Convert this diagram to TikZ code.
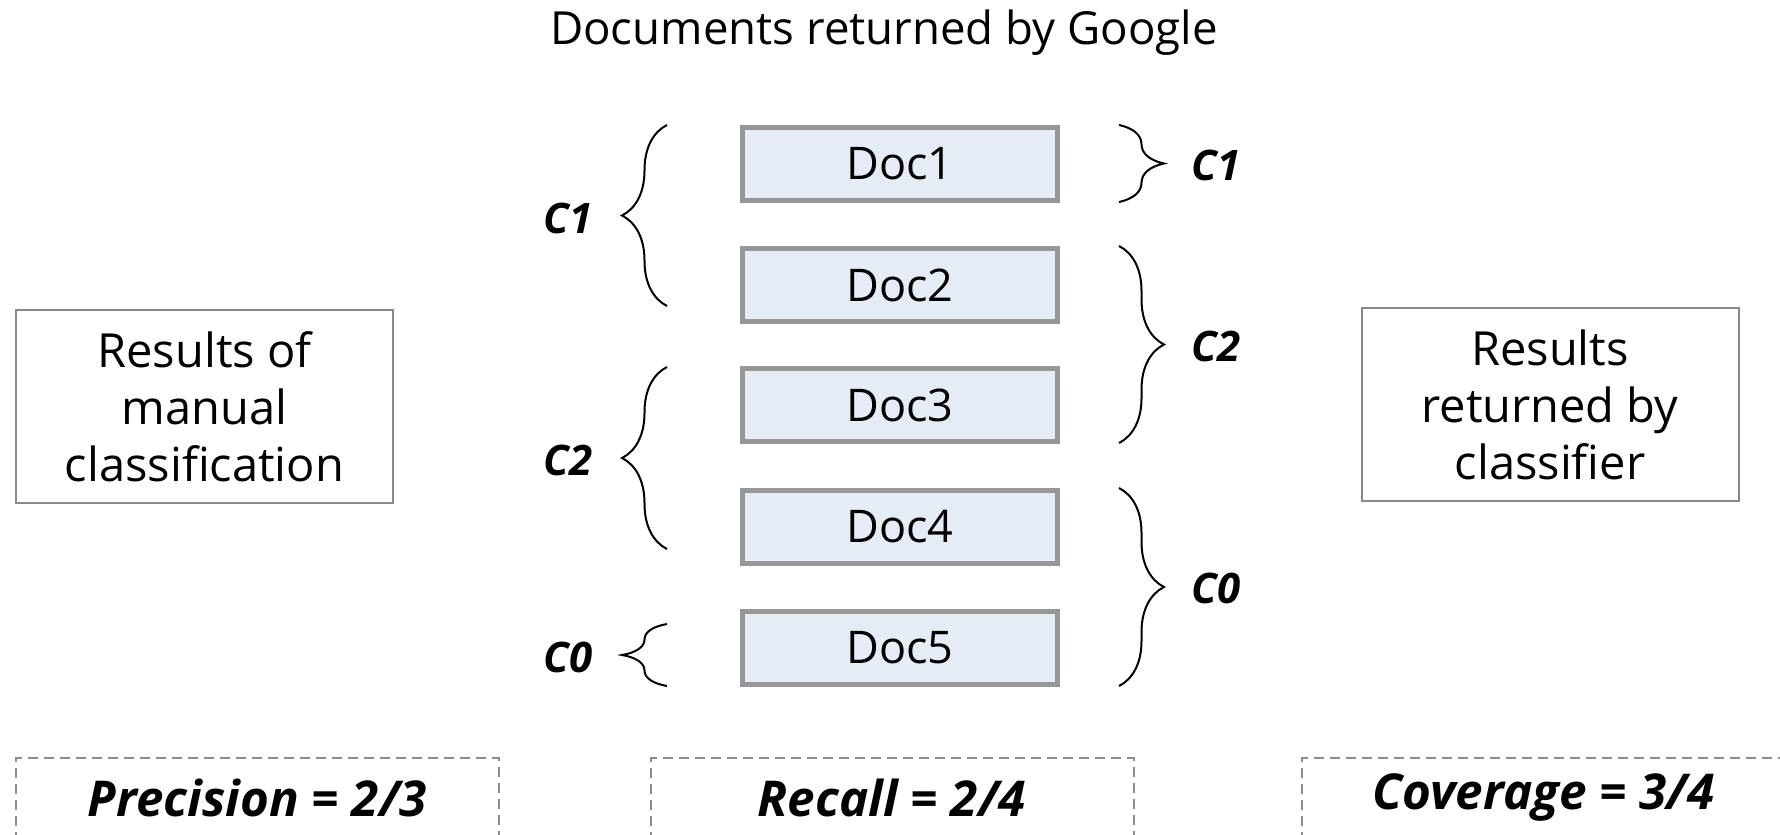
\documentclass[tikz,border=0pt]{standalone}
\usepackage{fontspec}
\setmainfont{Open Sans}
\usetikzlibrary{decorations.pathreplacing}
\definecolor{docfill}{HTML}{E6ECF6}
\definecolor{docline}{HTML}{979797}
\definecolor{boxline}{HTML}{8A8A8A}
\definecolor{dashline}{HTML}{8C8C8C}
\begin{document}
\begin{tikzpicture}[x=0.5pt,y=-0.5pt,
  docbox/.style={draw=docline, line width=2.3pt, fill=docfill, minimum width=157.7pt, minimum height=36.7pt, inner sep=0pt, font=\fontsize{22.5}{28}\selectfont},
  sidebox/.style={draw=boxline, line width=1pt, minimum width=188.5pt, minimum height=96.5pt, inner sep=0pt, align=center, font=\fontsize{23.5}{28.5}\selectfont},
  metricbox/.style={draw=dashline, line width=1pt, dash pattern=on 5pt off 3pt, minimum width=241.5pt, minimum height=40pt, inner sep=0pt, font=\fontsize{24.7}{28}\selectfont\bfseries\itshape},
  clabel/.style={font=\fontsize{21}{28}\selectfont\bfseries\itshape},
  titletext/.style={font=\fontsize{22.8}{28}\selectfont},
  bracepath/.style={decorate, decoration={brace, amplitude=22.5pt}, line width=1pt}
]
\useasboundingbox (0,0) rectangle (1780,834);
\clip (0,0) rectangle (1780,834);

\node[titletext] (title) at (884,33) {Documents returned by Google};

\node[docbox] (d1) at (900,164) {Doc1};
\node[docbox] (d2) at (900,285) {Doc2};
\node[docbox] (d3) at (900,405) {Doc3};
\node[docbox] (d4) at (900,527) {Doc4};
\node[docbox] (d5) at (900,648) {Doc5};

\node[sidebox] (manual) at (204.5,406.5) {Results of\\manual\\classification};
\node[sidebox] (classifier) at (1550,404.5) {Results\\returned by\\classifier};

% left braces (manual classification)
\coordinate (lb1a) at (667,306); \coordinate (lb1b) at (667,125);
\coordinate (lb2a) at (667,549); \coordinate (lb2b) at (667,367);
\coordinate (lb3a) at (667,686); \coordinate (lb3b) at (667,624);
\draw[bracepath] (lb1a) -- (lb1b);
\draw[bracepath] (lb2a) -- (lb2b);
\draw[bracepath] (lb3a) -- (lb3b);
\node[clabel] (lc1) at (568,218) {C1};
\node[clabel] (lc2) at (568,460) {C2};
\node[clabel] (lc0) at (568,657) {C0};

% right braces (classifier)
\coordinate (rb1a) at (1119,125); \coordinate (rb1b) at (1119,202);
\coordinate (rb2a) at (1119,246); \coordinate (rb2b) at (1119,443);
\coordinate (rb3a) at (1119,488); \coordinate (rb3b) at (1119,686);
\draw[bracepath] (rb1a) -- (rb1b);
\draw[bracepath] (rb2a) -- (rb2b);
\draw[bracepath] (rb3a) -- (rb3b);
\node[clabel] (rc1) at (1216,165) {C1};
\node[clabel] (rc2) at (1216,346) {C2};
\node[clabel] (rc0) at (1216,588) {C0};

\node[metricbox] (prec) at (257.5,798) {Precision = 2/3};
\node[metricbox] (rec) at (892,798) {Recall = 2/4};
\node[metricbox] (cov) at (1543.5,798) {Coverage = 3/4};
\end{tikzpicture}
\end{document}
